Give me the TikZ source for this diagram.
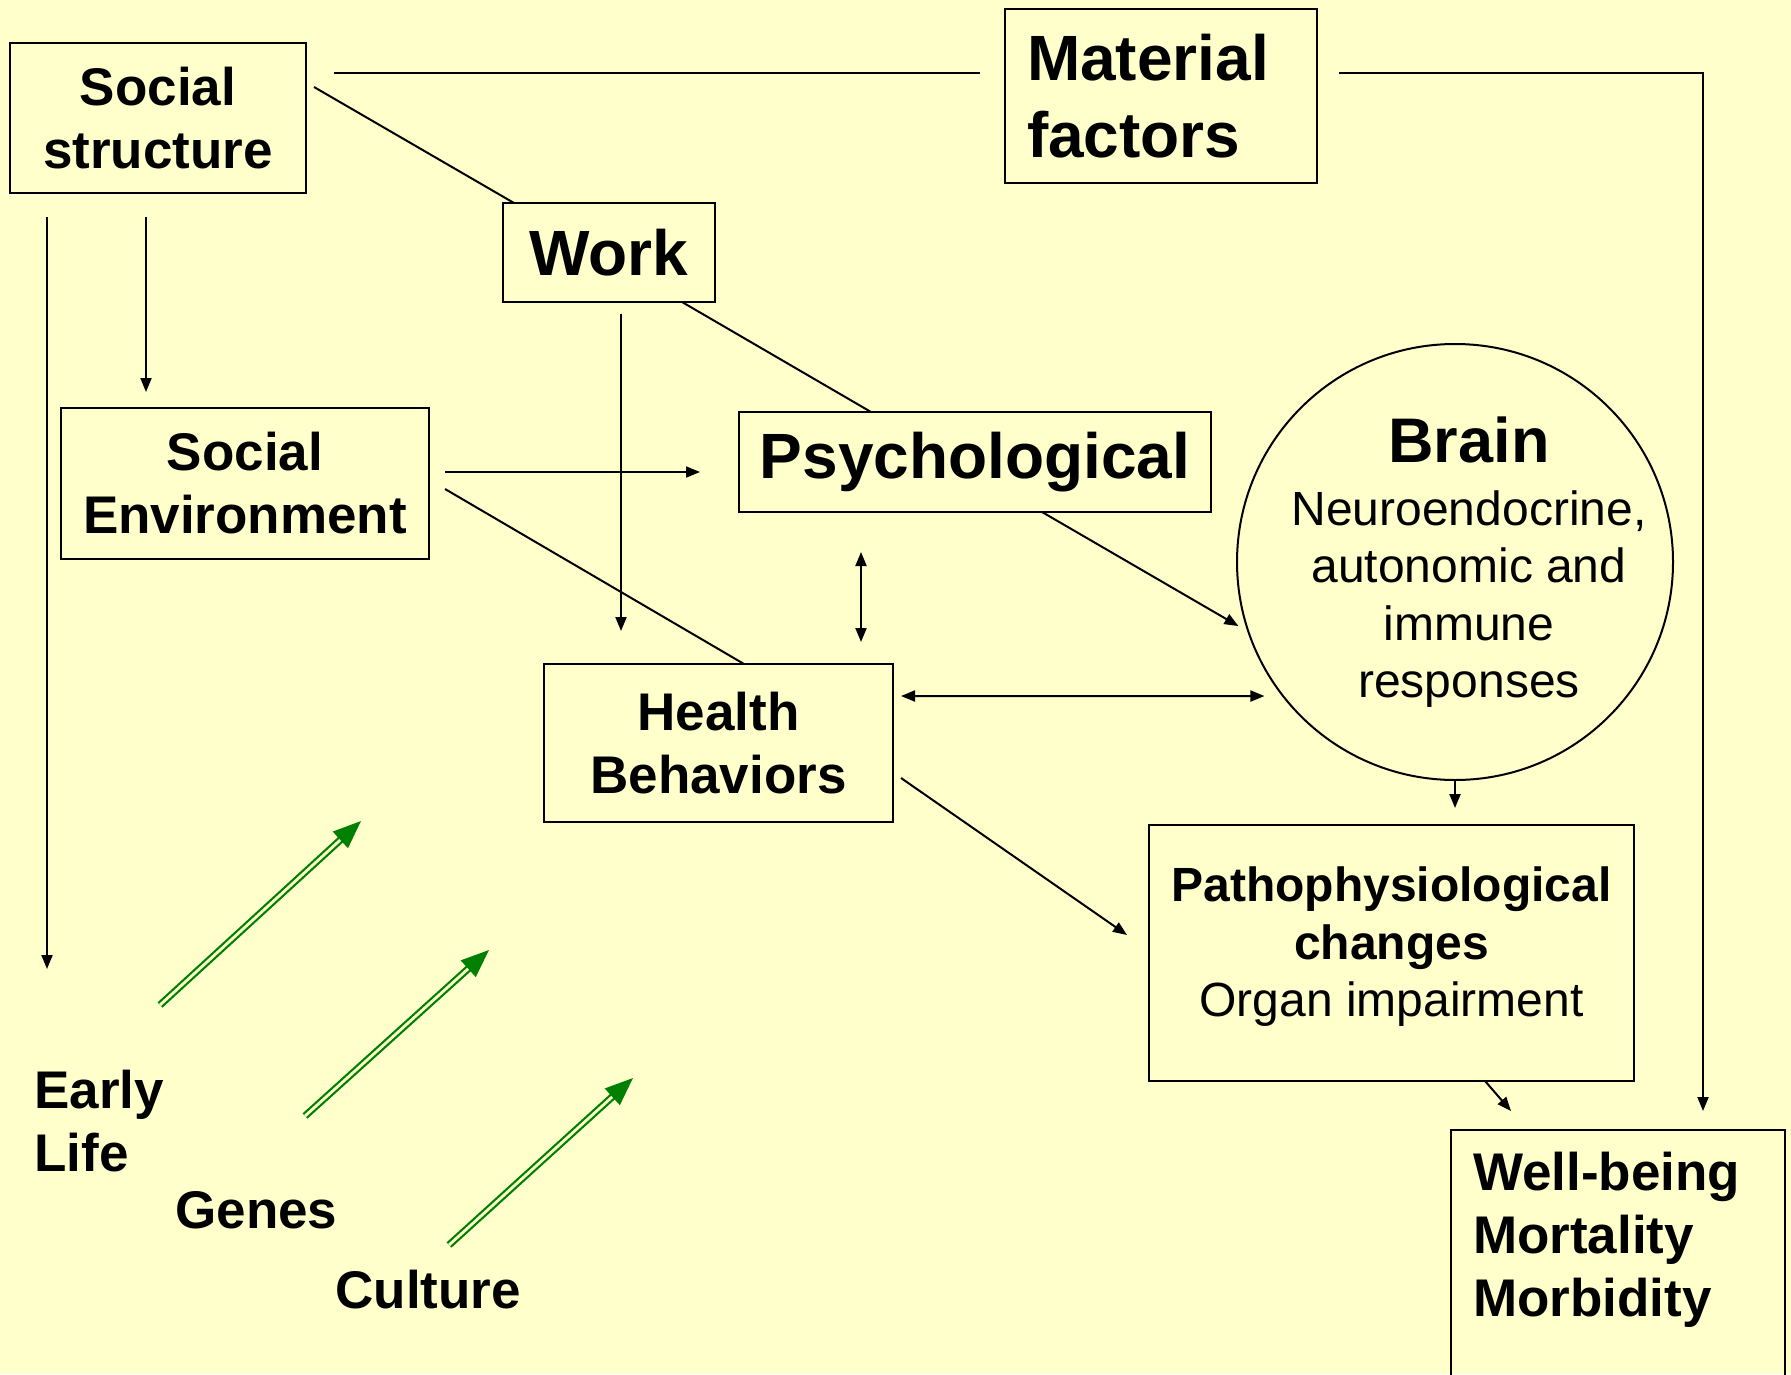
\documentclass[tikz,border=0pt]{standalone}
\usepackage{fontspec}
\setmainfont{Liberation Sans}
\usetikzlibrary{arrows.meta}
\definecolor{slidebg}{HTML}{FFFFCC}
\definecolor{leafgreen}{HTML}{008000}
\newcommand{\fta}{\fontsize{26.5}{31.5}\selectfont\bfseries}
\newcommand{\ftb}{\fontsize{32}{38.5}\selectfont\bfseries}
\newcommand{\ftc}{\fontsize{24}{28.75}\selectfont}
\tikzset{
  box/.style={draw, line width=1.2pt, align=center, inner sep=0pt, outer sep=0pt},
  link/.style={line width=1pt},
  arr/.style={link, -{Triangle[length=7pt,width=5.5pt]}},
  darr/.style={link, {Triangle[length=7pt,width=5.5pt]}-{Triangle[length=7pt,width=5.5pt]}},
  gline/.style={leafgreen, line width=1.1pt, double=slidebg, double distance=1.4pt, -{Triangle[length=14pt,width=11pt]}},
}
\begin{document}
\begin{tikzpicture}[x=0.5pt,y=-0.5pt]
\useasboundingbox (0,0) rectangle (1791,1374);
\fill[slidebg] (0,0) rectangle (1791,1374);

% boxes
\node[box, minimum width=148pt, minimum height=75pt, font=\fta] (ss) at (158,118) {Social\\structure};
\node[box, text width=134pt, inner xsep=11pt, minimum height=87pt, align=left, font=\ftb] (mf) at (1161,96) {Material\\factors};
\node[box, minimum width=106pt, minimum height=49.5pt, font=\ftb] (work) at (609,252.5) {Work};
\node[box, minimum width=184pt, minimum height=75.5pt, font=\fta] (se) at (245,483.5) {Social\\Environment};
\node[box, minimum width=236pt, minimum height=50pt, font=\ftb] (psy) at (975,462) {Psychological};
\node[box, minimum width=174.5pt, minimum height=79pt, font=\fta] (hb) at (718.5,743) {Health\\Behaviors};
\node[circle, draw, line width=1pt, minimum size=218pt, inner sep=0pt, outer sep=0pt] (brain) at (1455,562) {};
\node[align=center, font=\ftc] (braintxt) at ([xshift=7pt]brain.center)
  {{\fontsize{31.5}{31.5}\selectfont\bfseries Brain}\\[2.75pt]Neuroendocrine,\\autonomic and\\immune\\responses};
\node[box, minimum width=242.5pt, minimum height=128pt, text depth=11pt, font=\ftc] (patho) at (1391.5,953)
  {\textbf{Pathophysiological}\\\textbf{changes}\\Organ impairment};
\node[box, anchor=north west, align=left, text width=145pt, inner xsep=11pt, inner ysep=11pt,
  text depth=100pt, font=\fta] (wb) at (1451,1130) {Well-being\\Mortality\\Morbidity};

% loose labels
\node[font=\fta, align=left, anchor=north west, inner sep=0pt] (early) at (34,1070) {Early\\Life};
\node[font=\fta, anchor=base west, inner sep=0pt] (genes) at (175,1228) {Genes};
\node[font=\fta, anchor=base west, inner sep=0pt] (culture) at (335,1308) {Culture};

% social structure
\draw[link] ([shift={(14pt,-15pt)}]ss.north east) -- ([shift={(-12.5pt,11.5pt)}]mf.west);
\draw[arr] ([shift={(11pt,11.5pt)}]mf.east) -| ([shift={(-41pt,9.5pt)}]wb.north east);
\draw[arr] ([shift={(18.5pt,-12pt)}]ss.south west) -- ([shift={(6.5pt,50.5pt)}]early.north west);
\draw[arr] ([shift={(68pt,-12pt)}]ss.south west) -- ([shift={(42.5pt,8pt)}]se.north west);
\draw[link] ([shift={(4pt,15.5pt)}]ss.east) -- ([xshift=5.5pt]work.north west);

% social environment and work
\draw[arr] ([shift={(8pt,5.75pt)}]se.east) -- ([shift={(-19.5pt,-5pt)}]psy.west);
\draw[link] ([shift={(8pt,-2.75pt)}]se.east) -- ([xshift=100pt]hb.north west);
\draw[link] ([xshift=-16.5pt]work.south east) -- ([xshift=66pt]psy.north west);
\draw[arr] ([shift={(59pt,-6pt)}]work.south west) -- ([shift={(38.5pt,16.5pt)}]hb.north west);

% psychological, behaviours, brain
\draw[darr] ([shift={(61pt,-20pt)}]psy.south west) -- ([shift={(158.5pt,11pt)}]hb.north west);
\draw[arr] ([xshift=-84.5pt]psy.south east) -- ([shift={(-3.5pt,-2pt)}]brain.196);
\draw[darr] ([shift={(4pt,23.5pt)}]hb.east) -- ([shift={(-6pt,-4.5pt)}]brain.215);
\draw[arr] ([shift={(4pt,22pt)}]hb.south east) -- ([shift={(-11pt,9pt)}]patho.west);
\draw[arr] (brain.south) -- ([shift={(153pt,8.5pt)}]patho.north west);
\draw[arr] ([xshift=168pt]patho.south west) -- ([shift={(30pt,9.5pt)}]wb.north west);

% green arrows
\foreach \sx/\sy/\dx/\dy in {160/1005/201/-184, 305/1116/184/-166, 449/1245/184/-167}
  \draw[gline] (\sx,\sy) -- ++(\dx,\dy);
\end{tikzpicture}
\end{document}
